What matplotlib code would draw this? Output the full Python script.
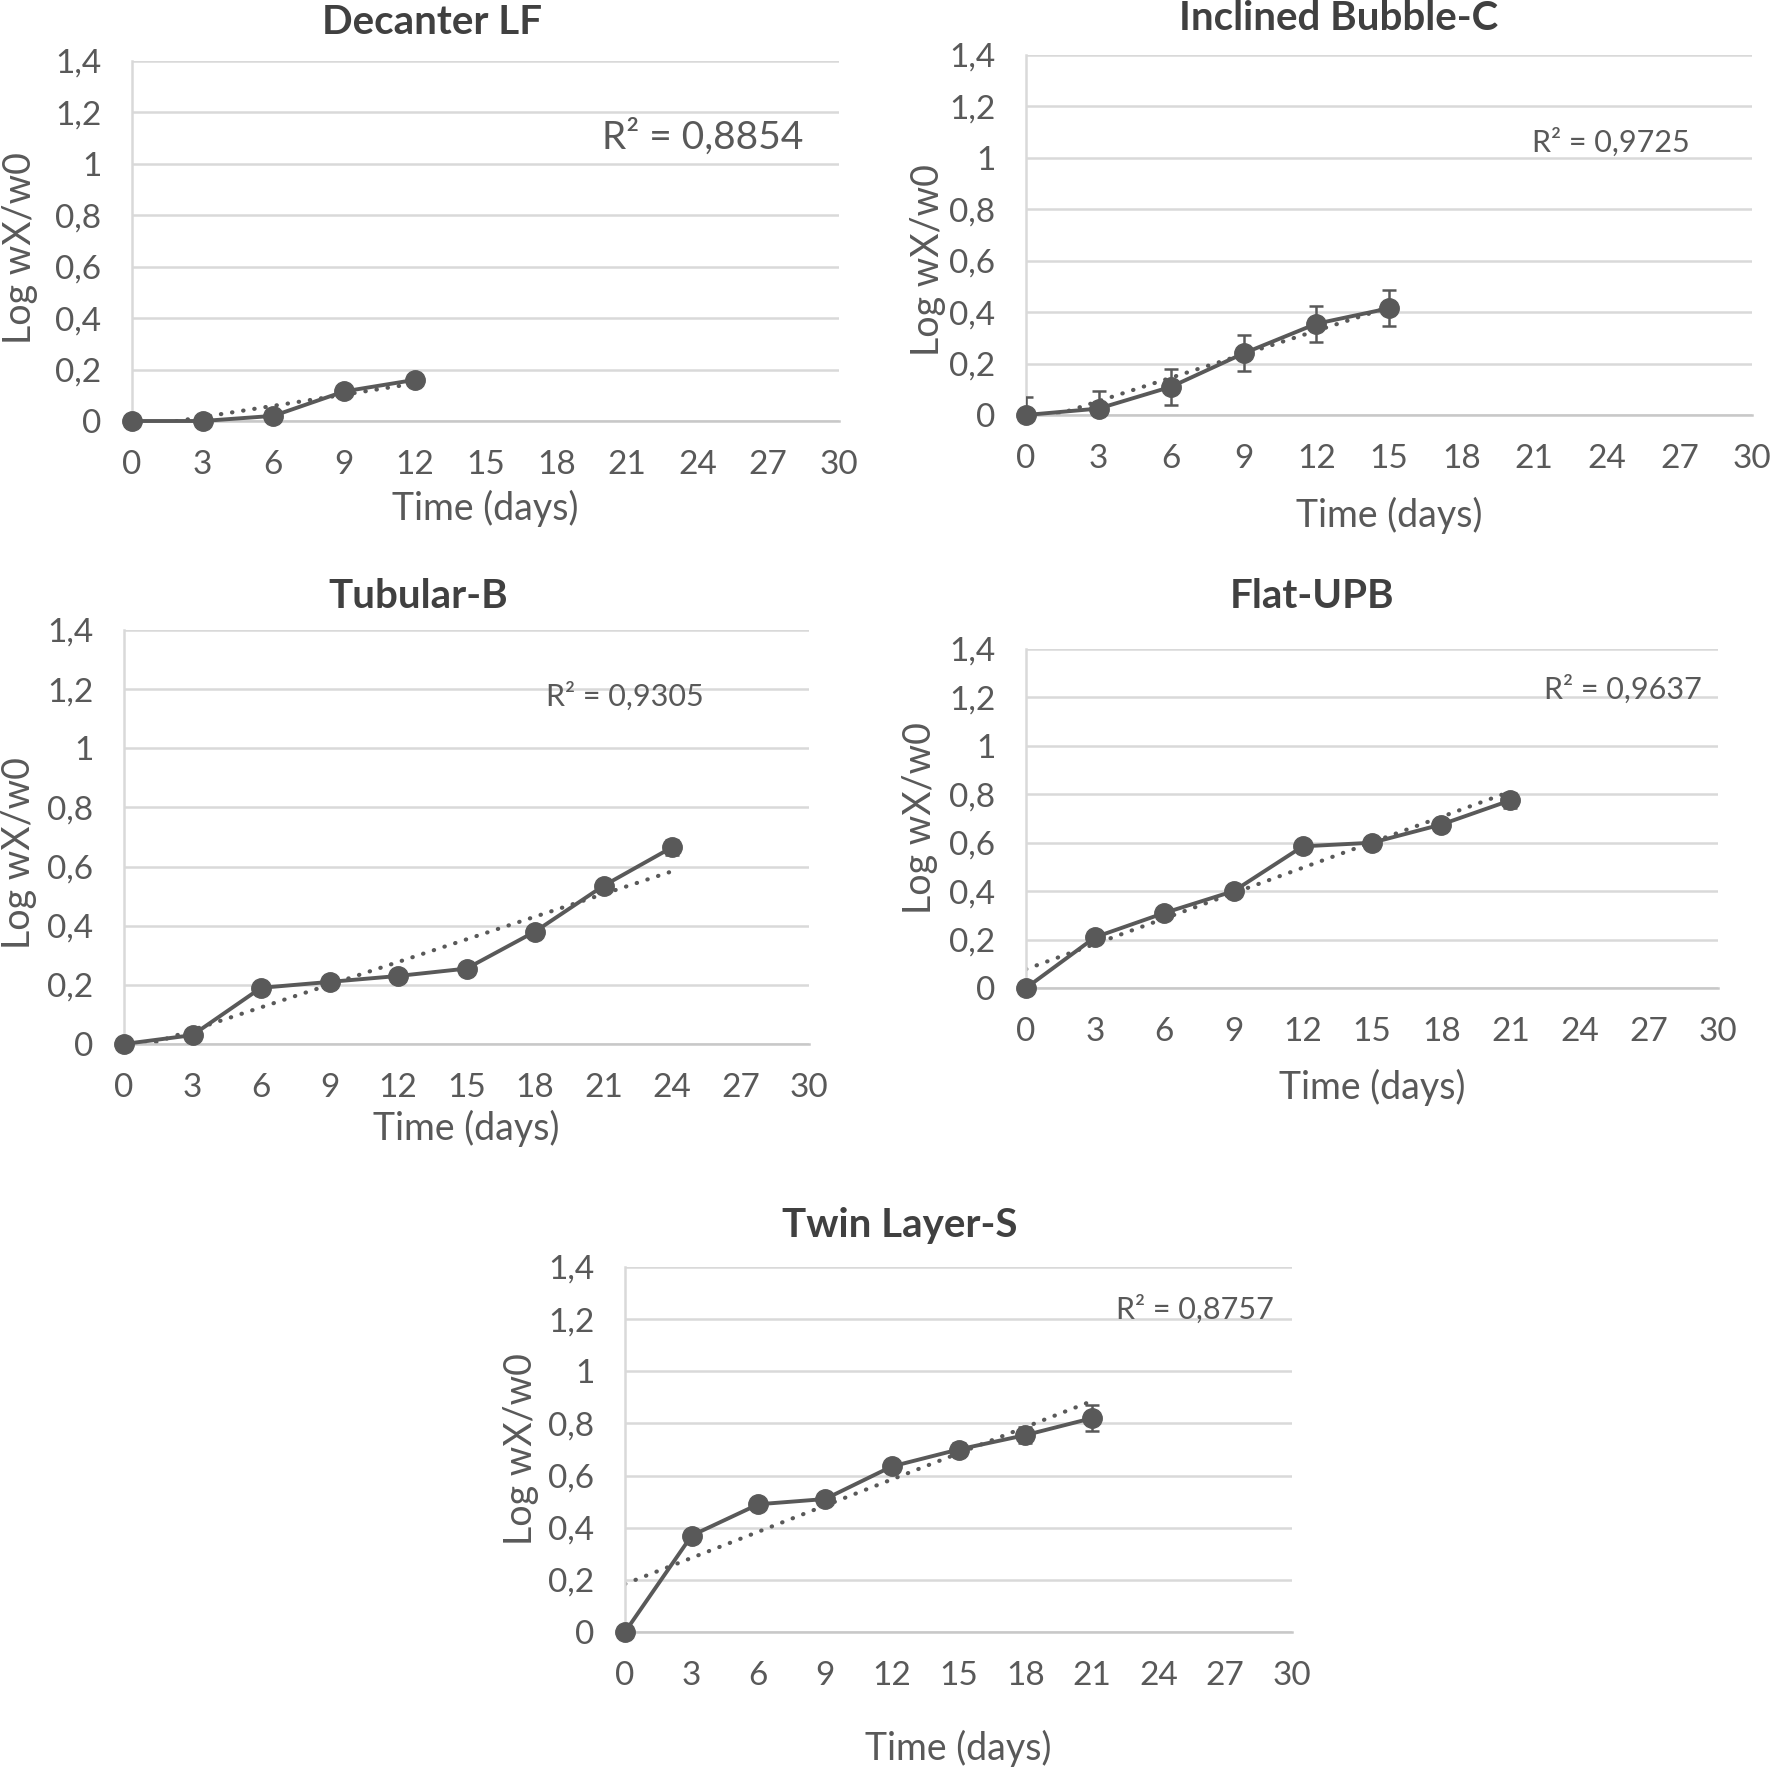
import matplotlib
matplotlib.use("Agg")
import matplotlib.pyplot as plt
import numpy as np

plt.rcParams['font.family'] = ['Lato', 'DejaVu Sans']

# data
titles = ['Decanter LF', 'Inclined Bubble-C', 'Tubular-B', 'Flat-UPB', 'Twin Layer-S']
r2_labels = ['R² = 0,8854', 'R² = 0,9725', 'R² = 0,9305', 'R² = 0,9637', 'R² = 0,8757']

days_decanter = [0, 3, 6, 9, 12]
log_decanter = [0.0, 0.0, 0.02, 0.115, 0.16]
err_decanter = [0.0, 0.0, 0.0, 0.0, 0.0]

days_bubble = [0, 3, 6, 9, 12, 15]
log_bubble = [0.0, 0.025, 0.11, 0.24, 0.355, 0.415]
err_bubble = [0.07, 0.07, 0.07, 0.07, 0.07, 0.07]

days_tubular = [0, 3, 6, 9, 12, 15, 18, 21, 24]
log_tubular = [0.0, 0.03, 0.19, 0.21, 0.23, 0.255, 0.38, 0.535, 0.665]
err_tubular = [0.005, 0.01, 0.01, 0.01, 0.01, 0.01, 0.01, 0.015, 0.025]

days_flat = [0, 3, 6, 9, 12, 15, 18, 21]
log_flat = [0.0, 0.21, 0.31, 0.40, 0.585, 0.60, 0.675, 0.775]
err_flat = [0.005, 0.015, 0.015, 0.01, 0.015, 0.015, 0.02, 0.03]

days_twin = [0, 3, 6, 9, 12, 15, 18, 21]
log_twin = [0.0, 0.37, 0.49, 0.51, 0.635, 0.70, 0.755, 0.82]
err_twin = [0.005, 0.015, 0.015, 0.015, 0.02, 0.025, 0.03, 0.05]

xticks = [0, 3, 6, 9, 12, 15, 18, 21, 24, 27, 30]
yticks = [0, 0.2, 0.4, 0.6, 0.8, 1.0, 1.2, 1.4]
ytick_labels = ['0', '0,2', '0,4', '0,6', '0,8', '1', '1,2', '1,4']

series = [(days_decanter, log_decanter, err_decanter),
          (days_bubble, log_bubble, err_bubble),
          (days_tubular, log_tubular, err_tubular),
          (days_flat, log_flat, err_flat),
          (days_twin, log_twin, err_twin)]

W = 1770.0
# axes boxes in pixels: left, right, y of 0, y of 1.4
boxes = [(132, 839, 421, 61), (1026, 1752, 415, 55), (124, 809, 1044, 630),
         (1026, 1718, 988, 649), (625, 1292, 1632, 1267)]
title_pos = [(432, 23), (1339, 19), (418, 596), (1312, 597), (900, 1225)]
r2_pos = [(803, 137, 28), (1690, 142, 22), (704, 696, 22), (1702, 689, 22), (1274, 1309, 22)]
xlab_y = [-0.242, -0.28, -0.203, -0.292, -0.318]
ylab_pos = [(-0.158, 0.48), (-0.135, 0.43), (-0.153, 0.46), (-0.153, 0.5), (-0.156, 0.5)]

dark = '#595959'
grid_c = '#d9d9d9'

fig = plt.figure(figsize=(17.7, 17.7), dpi=100)

for i in range(5):
    l, r, y0, y1 = boxes[i]
    ax = fig.add_axes([l / W, 1 - y0 / W, (r - l) / W, (y0 - y1) / W])
    x, y, e = series[i]

    # linear trendline
    k, b = np.polyfit(x, y, 1)
    xt = np.array([x[0], x[-1]])
    ax.plot(xt, k * xt + b, linestyle=(0, (0.1, 2.6)), color=dark, lw=3,
            dash_capstyle='round', zorder=2)

    if max(e) > 0:
        ax.errorbar(x, y, yerr=e, fmt='none', ecolor=dark, elinewidth=1.8,
                    capsize=5, capthick=1.8, zorder=3)
    ax.plot(x, y, '-o', color=dark, lw=2.8, markersize=14, zorder=4, clip_on=False)

    ax.set_xlim(0, 30)
    ax.set_ylim(0, 1.4)
    ax.set_xticks(xticks)
    ax.set_yticks(yticks)
    ax.set_yticklabels(ytick_labels)
    ax.tick_params(length=0, labelsize=24, labelcolor=dark)
    ax.tick_params(axis='y', pad=22)
    ax.tick_params(axis='x', pad=21)
    ax.grid(axis='y', color=grid_c, lw=1.8)
    ax.set_axisbelow(True)
    for s in ['top', 'right']:
        ax.spines[s].set_visible(False)
    ax.spines['left'].set_color(grid_c)
    ax.spines['left'].set_linewidth(1.8)
    ax.spines['bottom'].set_color('#c8c8c8')
    ax.spines['bottom'].set_linewidth(1.8)

    ax.set_xlabel('Time (days)', fontsize=27, color=dark)
    ax.xaxis.set_label_coords(0.5, xlab_y[i])
    ax.xaxis.label.set_va('center')
    ax.set_ylabel('Log wX/w0', fontsize=27, color=dark)
    ax.yaxis.set_label_coords(*ylab_pos[i])
    ax.yaxis.label.set_va('center')

    tx, ty = title_pos[i]
    fig.text(tx / W, 1 - ty / W, titles[i], ha='center', va='center',
             fontsize=29, fontweight='bold', color='#404040')
    rx, ry, rs = r2_pos[i]
    fig.text(rx / W, 1 - ry / W, r2_labels[i], ha='right', va='center',
             fontsize=rs, color=dark)

fig.savefig('out.png', dpi=100, facecolor='white')
